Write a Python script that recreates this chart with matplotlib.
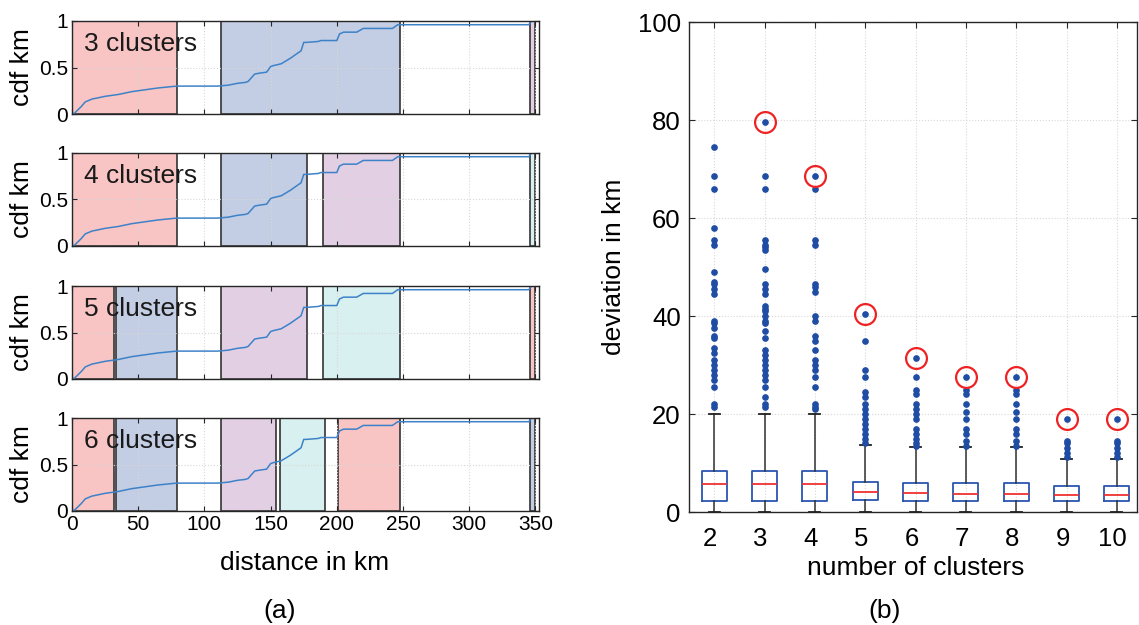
import numpy as np
import matplotlib
matplotlib.use('Agg')
import matplotlib.pyplot as plt
from matplotlib.transforms import ScaledTranslation

plt.rcParams['font.family'] = ['Liberation Sans', 'DejaVu Sans']

### data

# cdf of distances (same curve in every left panel)
cdf_x = [0, 2, 7, 10, 15, 25, 35, 45, 55, 65, 72, 79, 110, 118, 125, 131, 133,
         138, 142, 147, 150, 152, 158, 165, 173, 175, 177, 186, 188, 200, 202,
         205, 215, 220, 242, 246, 345, 347, 352]
cdf_y = [0, 0.01, 0.08, 0.13, 0.16, 0.19, 0.21, 0.24, 0.26, 0.28, 0.29, 0.30,
         0.30, 0.31, 0.33, 0.34, 0.35, 0.43, 0.44, 0.45, 0.51, 0.52, 0.54, 0.60,
         0.68, 0.77, 0.77, 0.78, 0.79, 0.79, 0.86, 0.88, 0.88, 0.92, 0.92, 0.96,
         0.96, 1.0, 1.0]

n_clusters_left = [3, 4, 5, 6]
# cluster extents in km, per panel (start, end, colour index)
spans_3 = [(0, 79.3, 0), (112.5, 247.4, 1), (346, 350, 2)]
spans_4 = [(0, 79.3, 0), (112.5, 177.3, 1), (189.4, 247.4, 2), (346, 350, 3)]
spans_5 = [(0, 31.6, 0), (33, 79.3, 1), (112.5, 177.3, 2), (189.4, 247.4, 3),
           (346, 350, 0)]
spans_6 = [(0, 31.6, 0), (33, 79.3, 1), (112.5, 153.8, 2), (157, 191.3, 3),
           (201, 248, 0), (346, 350, 1)]
all_spans = [spans_3, spans_4, spans_5, spans_6]
span_colors = ['#f8c4c4', '#c3cde3', '#e2cfe4', '#d8f0ef']

# box plot summary per number of clusters
n_clusters = [2, 3, 4, 5, 6, 7, 8, 9, 10]
q1 = [2.3, 2.3, 2.3, 2.4, 2.3, 2.3, 2.3, 2.3, 2.3]
med = [5.8, 5.8, 5.8, 4.0, 3.9, 3.7, 3.7, 3.5, 3.4]
q3 = [8.3, 8.3, 8.3, 6.1, 6.0, 6.0, 6.0, 5.3, 5.3]
whis_lo = [0, 0, 0, 0, 0, 0, 0, 0, 0]
whis_hi = [20, 20, 20, 13.7, 13.2, 13.3, 13.2, 10.8, 10.8]
fliers = [
    [21.5, 22, 25.5, 27, 28, 29, 30, 31, 32.5, 33.5, 35.5, 36, 37.5, 38.5, 39,
     44.5, 45.5, 46.5, 47, 49, 54.5, 55.5, 58, 66, 68.5, 74.5],
    [21.5, 22, 23.5, 25.5, 27, 28, 29, 30, 31, 32, 33, 35.5, 37, 38.5, 39, 40,
     41, 41.5, 42, 44.5, 45.5, 46.5, 49.5, 53.5, 54, 54.5, 55.5, 66, 68.5, 79.5],
    [21, 21.5, 22, 25.5, 27.5, 29, 30, 31, 33, 35, 36, 39, 40, 45, 46, 46.5,
     54.5, 55.5, 66, 68.5],
    [14, 15, 16, 17, 18, 19, 20, 21, 22, 23.5, 24.5, 27.5, 29, 35, 40.5],
    [13.5, 14, 15, 16, 17, 19, 20, 21, 22, 24, 25, 27.5, 31.5],
    [13.5, 14.5, 16, 17, 19, 20.5, 22, 24, 25, 27.5],
    [13.5, 14.5, 16, 17, 19, 20.5, 22, 24, 25, 27.5],
    [11.2, 12, 13, 14, 14.5, 19],
    [11.2, 12, 13, 14, 14.5, 19],
]
# groups whose largest deviation is circled
circled = [3, 4, 5, 6, 7, 8, 9, 10]

W, H = 1139, 625
fig = plt.figure(figsize=(W / 100, H / 100), dpi=100)

def px_axes(left, top, right, bottom):
    return fig.add_axes([left / W, 1 - bottom / H, (right - left) / W, (bottom - top) / H])

spine_col = '#262626'
grid_kw = dict(color='#d8d8d8', linestyle=':', linewidth=0.8)

### (a) cdf panels
tops = [21, 153, 286, 418]
for i, (k, spans) in enumerate(zip(n_clusters_left, all_spans)):
    ax = px_axes(72, tops[i], 539, tops[i] + 93)
    ax.set_axisbelow(False)
    ax.grid(True, **grid_kw)
    for x0, x1, c in spans:
        ax.axvspan(x0, x1, facecolor=span_colors[c], edgecolor='#333333',
                   linewidth=1.2, zorder=1)
    ax.plot(cdf_x, cdf_y, color='#3d82c8', linewidth=1.1, zorder=3)
    ax.set_xlim(0, 352.7)
    ax.set_ylim(0, 1)
    ax.set_yticks([0, 0.5, 1])
    ax.set_yticklabels(['0', '0.5', '1'])
    ax.set_xticks(np.arange(0, 351, 50))
    ax.tick_params(direction='in', top=True, right=True, length=3.5,
                   labelsize=15, color=spine_col, pad=3)
    for s in ax.spines.values():
        s.set_color(spine_col)
        s.set_linewidth(1.0)
        s.set_zorder(4)
    ax.text(0.025, 0.75, '%d clusters' % k, transform=ax.transAxes,
            fontsize=19, va='center', ha='left', color='#1a1a1a', zorder=5)
    ax.set_ylabel('cdf km', fontsize=19)
    ax.yaxis.set_label_coords(-0.082, 0.5)
    if i < 3:
        ax.set_xticklabels([])
    else:
        ax.set_xlabel('distance in km', fontsize=19)
        ax.xaxis.set_label_coords(0.497, -0.43)

fig.text(280 / W, 1 - 611 / H, '(a)', fontsize=19, ha='center', va='center')

### (b) box plots
axb = px_axes(689, 22, 1137, 512)
axb.set_axisbelow(True)
axb.grid(True, **grid_kw)
stats = []
for j in range(len(n_clusters)):
    stats.append(dict(q1=q1[j], med=med[j], q3=q3[j], whislo=whis_lo[j],
                      whishi=whis_hi[j], fliers=fliers[j]))
axb.bxp(stats, positions=n_clusters, widths=0.5, capwidths=0.22,
        boxprops=dict(color='#2a55b0', linewidth=1.3),
        medianprops=dict(color='#f03030', linewidth=1.3),
        whiskerprops=dict(color='#303030', linewidth=1.1),
        capprops=dict(color='#202020', linewidth=1.3),
        flierprops=dict(marker='o', markersize=3.8, markerfacecolor='#1f4da3',
                        markeredgecolor='#1f4da3', linestyle='none'))
# highlight the largest deviation of the circled groups
max_dev = [max(fliers[n_clusters.index(k)]) for k in circled]
axb.plot(circled, max_dev, 'o', markersize=15, markerfacecolor='none',
         markeredgecolor='#ee2222', markeredgewidth=1.6, linestyle='none')
axb.set_xlim(1.5, 10.4)
axb.set_ylim(0, 100)
axb.set_yticks(np.arange(0, 101, 20))
axb.set_xticks(n_clusters)
axb.set_xticklabels([str(k) for k in n_clusters])
axb.tick_params(direction='in', top=True, right=True, length=4,
                labelsize=18.5, color=spine_col, pad=6)
axb.tick_params(axis='x', bottom=False, pad=11)
for lab in axb.get_xticklabels():
    lab.set_transform(lab.get_transform() + ScaledTranslation(-4 / 100, 0, fig.dpi_scale_trans))
for s in axb.spines.values():
    s.set_color(spine_col)
    s.set_linewidth(1.0)
axb.set_ylabel('deviation in km', fontsize=19)
axb.yaxis.set_label_coords(-0.14, 0.5)
axb.set_xlabel('number of clusters', fontsize=19)
axb.xaxis.set_label_coords(0.506, -0.09)

fig.text(885 / W, 1 - 611 / H, '(b)', fontsize=19, ha='center', va='center')

fig.savefig('out.png', dpi=100)
